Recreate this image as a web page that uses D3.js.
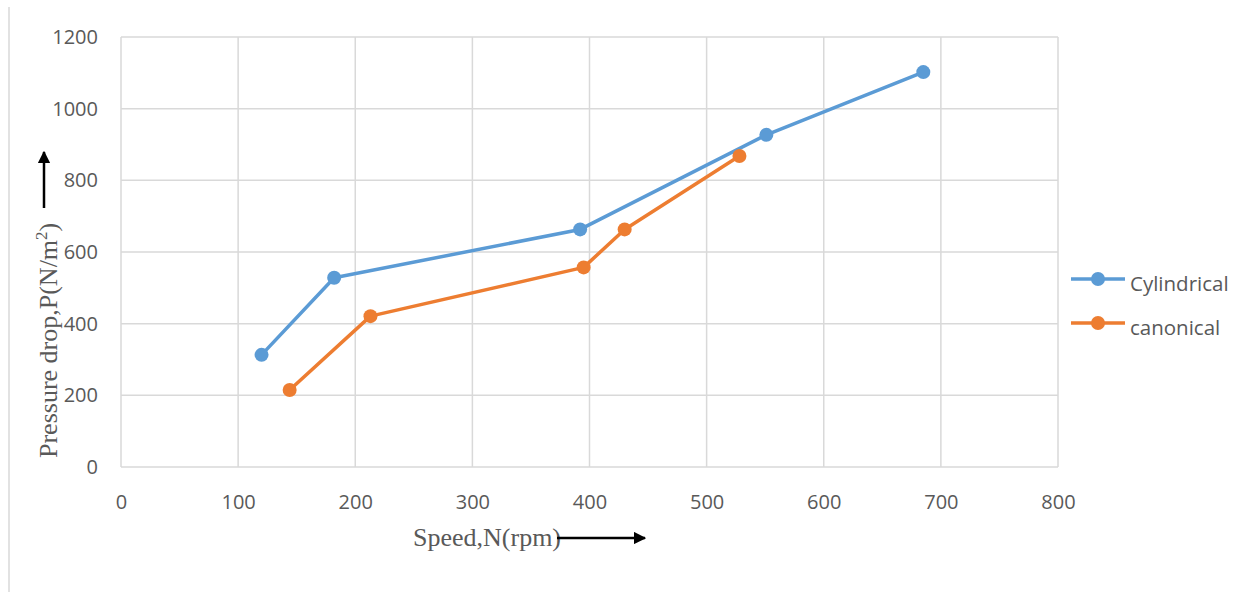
<!DOCTYPE html>
<html>
<head>
<meta charset="utf-8">
<script src="https://cdn.jsdelivr.net/npm/d3@7"></script>
<style>
  html, body { margin: 0; padding: 0; background: #fff; }
  svg { display: block; }
</style>
</head>
<body>
<svg id="chart" width="1252" height="592"></svg>
<script>
// Pressure drop against rotor speed for two vessel shapes
const seriesNames = ["Cylindrical", "canonical"];
const seriesColors = ["#5B9BD5", "#ED7D31"];
const cylSpeed = [120, 182, 392, 551, 685];
const cylPressure = [313, 528, 663, 927, 1102];
const canSpeed = [144, 213, 395, 430, 528];
const canPressure = [215, 421, 557, 663, 868];
const xTicks = [0, 100, 200, 300, 400, 500, 600, 700, 800];
const yTicks = [0, 200, 400, 600, 800, 1000, 1200];

const svg = d3.select("#chart");
const plotLeft = 121, plotRight = 1058, plotTop = 37, plotBottom = 467;

const x = d3.scaleLinear().domain([0, 800]).range([plotLeft, plotRight]);
const y = d3.scaleLinear().domain([0, 1200]).range([plotBottom, plotTop]);

const labelFont = "'Open Sans', 'Liberation Sans', sans-serif";
const titleFont = "'Liberation Serif', 'Times New Roman', serif";

// outer frame edge
svg.append("line").attr("x1", 9).attr("x2", 9).attr("y1", 7).attr("y2", 592)
  .attr("stroke", "#D9D9D9").attr("stroke-width", 1.5);

// gridlines
svg.append("g").selectAll("line").data(xTicks).join("line")
  .attr("x1", d => x(d)).attr("x2", d => x(d)).attr("y1", plotTop).attr("y2", plotBottom)
  .attr("stroke", "#D9D9D9").attr("stroke-width", 1.5);
svg.append("g").selectAll("line").data(yTicks).join("line")
  .attr("x1", plotLeft).attr("x2", plotRight).attr("y1", d => y(d)).attr("y2", d => y(d))
  .attr("stroke", "#D9D9D9").attr("stroke-width", 1.5);

// axes (labels only, lines drawn as grid)
const xAxis = svg.append("g").attr("transform", `translate(0,${plotBottom})`)
  .call(d3.axisBottom(x).tickValues(xTicks).tickSize(0).tickPadding(28).tickFormat(d3.format("d")));
const yAxis = svg.append("g").attr("transform", `translate(${plotLeft},0)`)
  .call(d3.axisLeft(y).tickValues(yTicks).tickSize(0).tickPadding(23).tickFormat(d3.format("d")));
[xAxis, yAxis].forEach(g => {
  g.select(".domain").remove();
  g.selectAll("text").attr("fill", "#595959")
    .style("font-family", labelFont).style("font-size", "20px");
});

// series
const series = [
  { name: seriesNames[0], color: seriesColors[0], xs: cylSpeed, ys: cylPressure },
  { name: seriesNames[1], color: seriesColors[1], xs: canSpeed, ys: canPressure }
];
const line = d3.line().x(d => x(d[0])).y(d => y(d[1]));
series.forEach(s => {
  const pts = s.xs.map((v, i) => [v, s.ys[i]]);
  svg.append("path").datum(pts).attr("d", line)
    .attr("fill", "none").attr("stroke", s.color).attr("stroke-width", 3.5)
    .attr("stroke-linejoin", "round");
  svg.append("g").selectAll("circle").data(pts).join("circle")
    .attr("cx", d => x(d[0])).attr("cy", d => y(d[1])).attr("r", 7)
    .attr("fill", s.color);
});

// legend
const legend = svg.append("g");
series.forEach((s, i) => {
  const ly = 279 + i * 44;
  legend.append("line").attr("x1", 1071).attr("x2", 1125).attr("y1", ly).attr("y2", ly)
    .attr("stroke", s.color).attr("stroke-width", 3.5);
  legend.append("circle").attr("cx", 1098).attr("cy", ly).attr("r", 7).attr("fill", s.color);
  legend.append("text").attr("x", 1130).attr("y", ly + 12).text(s.name)
    .attr("fill", "#595959")
    .style("font-family", labelFont).style("font-size", "20.5px");
});

// arrow marker
svg.append("defs").append("marker").attr("id", "arrow")
  .attr("viewBox", "0 0 10 10").attr("refX", 9).attr("refY", 5)
  .attr("markerWidth", 5).attr("markerHeight", 5).attr("markerUnits", "strokeWidth")
  .attr("orient", "auto")
  .append("path").attr("d", "M0,0 L10,5 L0,10 Z").attr("fill", "#000");

// x axis title with arrow
svg.append("text").attr("x", 413).attr("y", 546).text("Speed,N(rpm)")
  .attr("fill", "#595959")
  .style("font-family", titleFont).style("font-size", "26px");
svg.append("line").attr("x1", 557).attr("x2", 645).attr("y1", 538).attr("y2", 538)
  .attr("stroke", "#000").attr("stroke-width", 2.5).attr("marker-end", "url(#arrow)");

// y axis title with arrow
const yTitle = svg.append("text")
  .attr("transform", "translate(57,458) rotate(-90)")
  .attr("fill", "#595959")
  .style("font-family", titleFont).style("font-size", "26px");
yTitle.append("tspan").text("Pressure drop,P(N/m");
yTitle.append("tspan").text("2").attr("dy", -10).style("font-size", "17px");
yTitle.append("tspan").text(")").attr("dy", 10);
svg.append("line").attr("x1", 44).attr("x2", 44).attr("y1", 208).attr("y2", 152)
  .attr("stroke", "#000").attr("stroke-width", 2.5).attr("marker-end", "url(#arrow)");
</script>
</body>
</html>
